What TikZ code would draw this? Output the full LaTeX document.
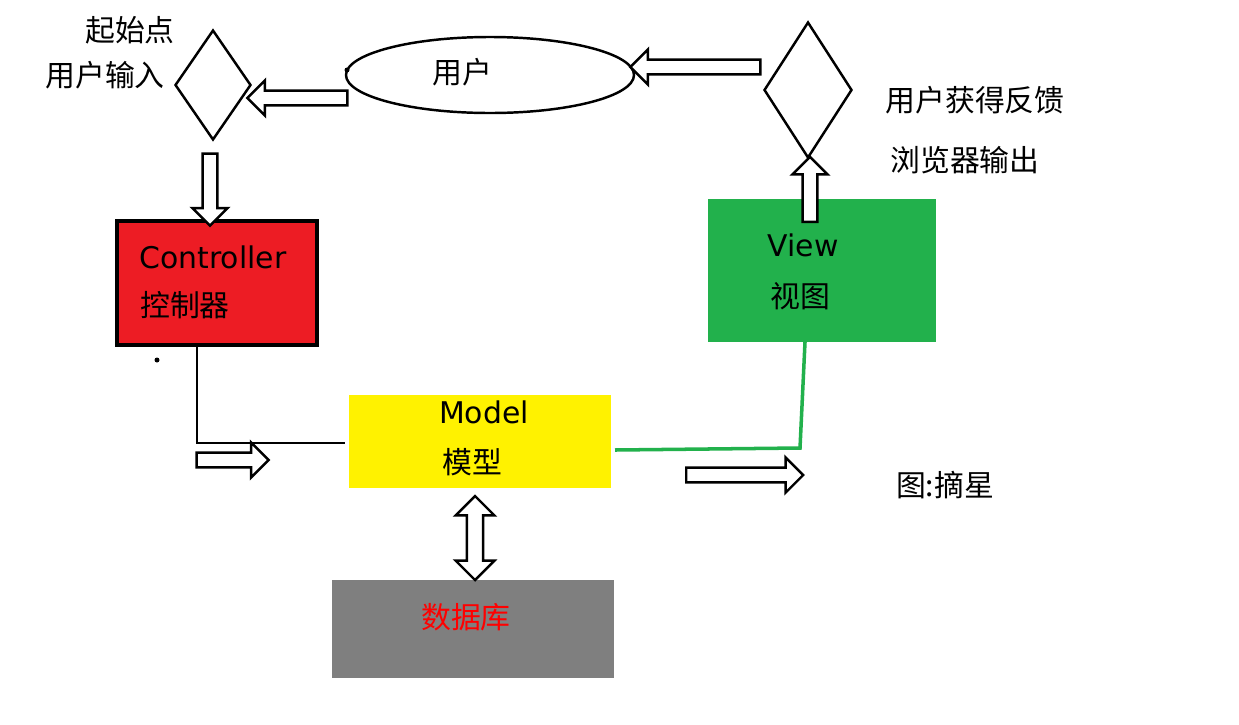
\documentclass[tikz,border=0pt]{standalone}
\usepackage{fontspec}
\setmainfont{DejaVu Sans}
\newfontfamily\cjk{Noto Sans CJK SC}
\usetikzlibrary{shapes.geometric,shapes.arrows}
\definecolor{ctrlred}{HTML}{ED1C24}
\definecolor{viewgreen}{HTML}{22B14C}
\definecolor{modelyellow}{HTML}{FFF200}
\definecolor{dbgray}{HTML}{7F7F7F}
\tikzset{
  hollow/.style={single arrow, draw, line width=1.4pt, fill=white, minimum height=#1, minimum width=20pt,
    single arrow head extend=3pt, inner sep=1.5pt},
  dhollow/.style={double arrow, draw, line width=1.4pt, fill=white, minimum height=#1, minimum width=22pt,
    double arrow head extend=3pt, inner sep=1.5pt},
  lbl/.style={font=\cjk\fontsize{17}{17}\selectfont},
  en/.style={font=\fontsize{17}{17}\selectfont}
}
\begin{document}
\begin{tikzpicture}[x=0.02cm, y=-0.02cm, line width=1.4pt]
    \useasboundingbox (0,0) rectangle (1239,724);

    % Rombos y elipse
    \node[diamond, draw, minimum width=76*0.02cm, minimum height=110*0.02cm, inner sep=0pt, aspect=0.7] (start) at (213,85) {};
    \node[ellipse, draw, minimum width=288*0.02cm, minimum height=76*0.02cm] (user) at (490,75) {};
    \node[lbl] (userlbl) at (462,72) {用户};
    \node[diamond, draw, minimum width=88*0.02cm, minimum height=136*0.02cm, inner sep=0pt, aspect=0.65] (finish) at (808,90) {};

    % Cajas
    \draw[line width=2.2pt, fill=ctrlred] (117,221) rectangle (317,345);
    \node[en] (ctrl) at (213,257) {Controller};
    \node[lbl] (ctrlzh) at (185,305) {控制器};
    \fill[viewgreen] (708,199) rectangle (936,342);
    \node[en] (view) at (803,245) {View};
    \node[lbl] (viewzh) at (800,296) {视图};
    \fill[modelyellow] (349,395) rectangle (611,488);
    \node[en] (model) at (484,412) {Model};
    \node[lbl] (modelzh) at (472,462) {模型};
    \fill[dbgray] (332,580) rectangle (614,678);
    \node[lbl, text=red] (db) at (466,617) {数据库};

    % Textos
    \node[lbl] (t1) at (130,30) {起始点};
    \node[lbl] (t2) at (105,75) {用户输入};
    \node[lbl] (t3) at (975,100) {用户获得反馈};
    \node[lbl] (t4) at (965,160) {浏览器输出};
    \node[lbl] (t5) at (945,485) {图:摘星};

    % Flechas huecas
    \node[hollow=100*0.02cm, shape border rotate=180] (a1) at (301,98) {};
    \node[hollow=130*0.02cm, shape border rotate=180] (a2) at (699,67) {};
    \node[hollow=72*0.02cm, shape border rotate=270] (a3) at (210,186) {};
    \node[hollow=65*0.02cm, shape border rotate=90] (a4) at (810,193) {};
    \node[dhollow=84*0.02cm, shape border rotate=90] (a5) at (475,538) {};
    \node[hollow=72*0.02cm] (a6) at (229,460) {};
    \node[hollow=117*0.02cm] (a7) at (741,475) {};

    % Conexiones
    \coordinate (c1) at (197,345);
    \coordinate (m1) at (345,443);
    \draw (c1) |- (m1);
    \coordinate (m2) at (615,450);
    \coordinate (v1) at (805,342);
    \draw[viewgreen, line width=2pt] (m2) -- (800,448) -- (v1);
    \fill (157,360) circle (2.5);
    \fill (347,70) circle (2.5);
\end{tikzpicture}
\end{document}
